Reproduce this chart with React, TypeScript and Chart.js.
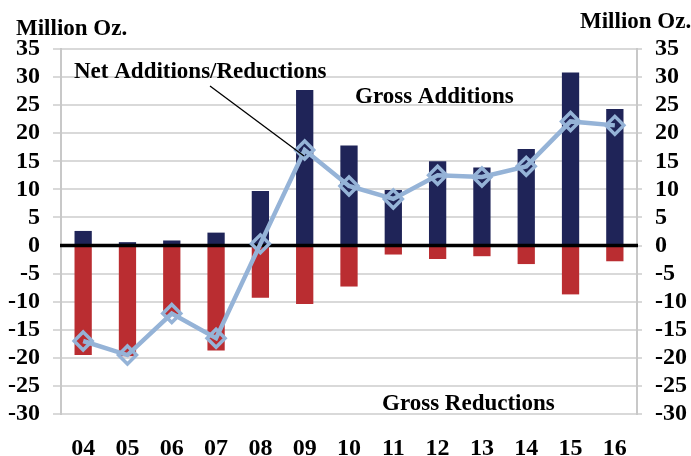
import React, { useEffect, useRef } from "react";
import { Chart, registerables } from "chart.js";

Chart.register(...registerables);

const years = ["04", "05", "06", "07", "08", "09", "10", "11", "12", "13", "14", "15", "16"];
const grossAdditions = [2.6, 0.6, 0.9, 2.3, 9.7, 27.7, 17.8, 9.9, 15.0, 13.9, 17.2, 30.8, 24.3];
const grossReductions = [-19.5, -19.7, -12.4, -18.7, -9.3, -10.4, -7.3, -1.6, -2.4, -1.9, -3.3, -8.7, -2.8];
const netChange = [-17.0, -19.5, -12.1, -16.5, 0.3, 17.0, 10.6, 8.3, 12.5, 12.2, 14.1, 22.1, 21.4];
const axisMin = -30;
const axisMax = 35;
const axisStep = 5;

const FONT_FAMILY = "'Liberation Serif', 'Times New Roman', serif";
const tickFont = { family: FONT_FAMILY, size: 24, weight: "bold" as const };

const zeroLinePlugin = {
  id: "zeroLine",
  beforeDatasetDraw(chart: any, args: any) {
    if (args.meta.type !== "line") return;
    const { ctx, chartArea } = chart;
    const y = chart.scales.y.getPixelForValue(0);
    ctx.save();
    ctx.strokeStyle = "#000000";
    ctx.lineWidth = 3.5;
    ctx.beginPath();
    ctx.moveTo(chartArea.left - 1, y);
    ctx.lineTo(chartArea.right + 1, y);
    ctx.stroke();
    ctx.restore();
  },
};

const textPlugin = {
  id: "annotations",
  afterDraw(chart: any) {
    const { ctx } = chart;
    ctx.save();
    ctx.fillStyle = "#000000";
    ctx.textAlign = "left";
    ctx.textBaseline = "alphabetic";
    ctx.font = `bold 23px ${FONT_FAMILY}`;
    ctx.fillText("Million Oz.", 16, 35);
    ctx.fillText("Million Oz.", 580, 28);
    ctx.fillText("Net Additions/Reductions", 74, 78);
    ctx.fillText("Gross Additions", 355, 103);
    ctx.fillText("Gross Reductions", 382, 410);
    ctx.strokeStyle = "#000000";
    ctx.lineWidth = 1.3;
    ctx.beginPath();
    ctx.moveTo(210, 86);
    ctx.lineTo(304, 156);
    ctx.stroke();
    ctx.restore();
  },
};

export default function App() {
  const canvasRef = useRef<HTMLCanvasElement | null>(null);

  useEffect(() => {
    if (!canvasRef.current) return;
    const chart = new Chart(canvasRef.current, {
      type: "bar",
      data: {
        labels: years,
        datasets: [
          {
            type: "bar",
            label: "Gross Additions",
            data: grossAdditions,
            backgroundColor: "#1F2458",
            grouped: false,
            categoryPercentage: 1,
            barPercentage: 0.39,
            order: 2,
          } as any,
          {
            type: "bar",
            label: "Gross Reductions",
            data: grossReductions,
            backgroundColor: "#BA2D31",
            grouped: false,
            categoryPercentage: 1,
            barPercentage: 0.39,
            order: 1,
          } as any,
          {
            type: "line",
            label: "Net Additions/Reductions",
            data: netChange,
            borderColor: "#95B3D7",
            borderWidth: 4.5,
            pointStyle: "rectRot",
            pointRadius: 9,
            pointBorderWidth: 3.5,
            pointBorderColor: "#95B3D7",
            pointBackgroundColor: "rgba(0,0,0,0)",
            tension: 0,
            order: 0,
          } as any,
        ],
      },
      options: {
        animation: false,
        responsive: true,
        maintainAspectRatio: false,
        layout: { padding: { top: 49, bottom: 0, left: 0, right: 0 } },
        plugins: {
          legend: { display: false },
          tooltip: { enabled: false },
        },
        scales: {
          x: {
            grid: { display: false },
            border: { display: false },
            ticks: { font: tickFont, color: "#000000", padding: 12, autoSkip: false, maxRotation: 0 },
            afterFit(scale: any) {
              scale.height = 42;
            },
          },
          y: {
            position: "left",
            min: axisMin,
            max: axisMax,
            ticks: { stepSize: axisStep, font: tickFont, color: "#000000", padding: 13, autoSkip: false },
            grid: {
              color: (c: any) => (c.tick && c.tick.value === 0 ? "rgba(0,0,0,0)" : "#D9D9D9"),
              lineWidth: 2,
              tickLength: 8,
            },
            border: { color: "#C8C8C8", width: 2 },
            afterFit(scale: any) {
              scale.width = 61;
            },
          },
          y2: {
            position: "right",
            min: axisMin,
            max: axisMax,
            ticks: { stepSize: axisStep, font: tickFont, color: "#000000", padding: 13, autoSkip: false },
            grid: { drawOnChartArea: false, color: "#D9D9D9", lineWidth: 2, tickLength: 5 },
            border: { color: "#C8C8C8", width: 2 },
            afterFit(scale: any) {
              scale.width = 54;
            },
          },
        },
      },
      plugins: [zeroLinePlugin, textPlugin],
    });
    return () => chart.destroy();
  }, []);

  return (
    <div style={{ position: "absolute", left: 0, top: 0, width: 691, height: 456, background: "#ffffff" }}>
      <canvas ref={canvasRef} />
    </div>
  );
}
